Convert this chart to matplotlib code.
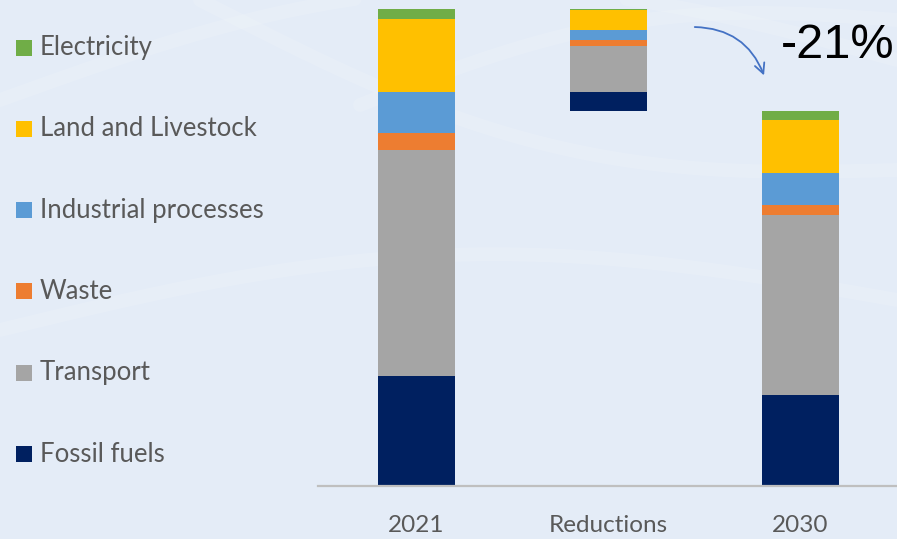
"""Emissions waterfall: 2021 -> reductions -> 2030."""

import matplotlib.pyplot as plt
import numpy as np
from matplotlib.patches import Rectangle

# values (arbitrary units, stacked bottom to top)
sectors = ["Fossil fuels", "Transport", "Waste", "Industrial processes",
           "Land and Livestock", "Electricity"]
colors = ["#002060", "#A5A5A5", "#ED7D31", "#5B9BD5", "#FFC000", "#70AD47"]
values_2021 = [110, 226, 17, 41, 73, 10]
reductions = [19, 46, 6, 10, 20, 1]
values_2030 = [91, 180, 10, 32, 53, 9]
bar_labels = ["2021", "Reductions", "2030"]

BG = "#E4ECF7"
TEXT = "#595959"

fig = plt.figure(figsize=(8.97, 5.39), dpi=100, facecolor=BG)
W, H = 897, 539

# faint decorative arcs in the background
bg = fig.add_axes([0, 0, 1, 1], zorder=-5)
bg.set_xlim(0, W)
bg.set_ylim(H, 0)
bg.axis("off")
t = np.linspace(0, 1, 200)
for x0, y0, x1, y1, bend in [(200, 0, 897, 170, 60), (0, 100, 897, 60, -90),
                             (0, 330, 897, 300, -60), (360, 105, 897, 20, -40)]:
    xs = x0 + (x1 - x0) * t
    ys = y0 + (y1 - y0) * t + bend * np.sin(np.pi * t)
    bg.plot(xs, ys, color="white", lw=10, alpha=0.12, solid_capstyle="round")

ax = fig.add_axes([318 / W, (H - 486) / H, 1 - 318 / W, 486 / H])
ax.set_facecolor("none")

x = np.arange(3)
width = 0.40
total_2030 = sum(values_2030)
total_2021 = sum(values_2021)

bottoms = [0.0, float(total_2030), 0.0]
for sector, col, a, r, b in zip(sectors, colors, values_2021, reductions, values_2030):
    ax.bar(x, [a, r, b], width, bottom=bottoms, color=col,
           edgecolor="none", label=sector)
    bottoms = [bottoms[0] + a, bottoms[1] + r, bottoms[2] + b]

ax.set_xlim(-0.513, 2.503)
ax.set_ylim(0, 486)
ax.set_yticks([])
for side in ("left", "right", "top"):
    ax.spines[side].set_visible(False)
ax.spines["bottom"].set_color("#BFBFBF")
ax.spines["bottom"].set_linewidth(1.6)
ax.set_xticks(x)
ax.set_xticklabels(bar_labels, fontsize=17.5, color=TEXT, family="Lato")
ax.tick_params(axis="x", length=0, pad=21)

# legend drawn as a column on the left
for i, (sector, col) in enumerate(zip(sectors[::-1], colors[::-1])):
    yc = 47.5 + i * 81.3
    fig.patches.append(Rectangle((16 / W, 1 - (yc + 8) / H), 16 / W, 16 / H,
                                 transform=fig.transFigure, facecolor=col,
                                 edgecolor="none"))
    fig.text(40 / W, 1 - yc / H, sector, fontsize=18.5, color=TEXT,
             family="Lato", va="center", ha="left")

# change label and curved arrow
change = (total_2030 - total_2021) / total_2021 * 100
fig.text(838 / W, 1 - 45 / H, f"{change:.0f}%", fontsize=35, color="black",
         family="Liberation Sans", ha="center", va="center")
ax.annotate("", xy=(765, H - 78), xycoords="figure pixels",
            xytext=(692, H - 27), textcoords="figure pixels",
            arrowprops=dict(arrowstyle="->", color="#4472C4", lw=1.3,
                            connectionstyle="arc3,rad=-0.35",
                            mutation_scale=18))

fig.savefig("out.png", dpi=100, facecolor=BG)
